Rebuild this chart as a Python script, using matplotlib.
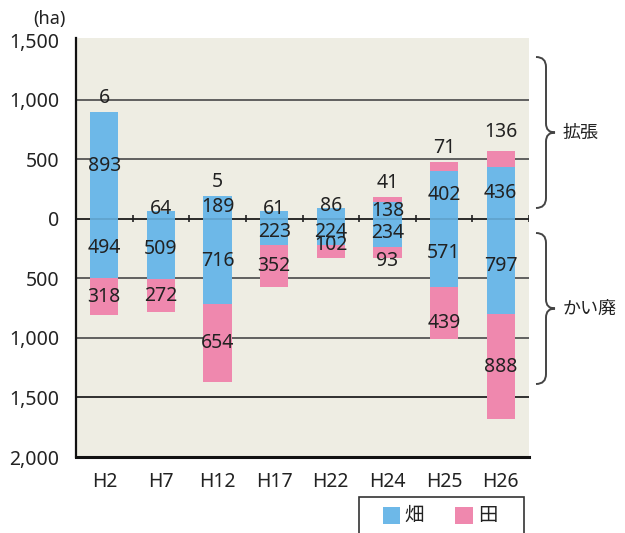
import matplotlib
matplotlib.use('Agg')
import matplotlib.pyplot as plt
from matplotlib.path import Path
from matplotlib.patches import PathPatch, Rectangle
import numpy as np

categories = ['H2', 'H7', 'H12', 'H17', 'H22', 'H24', 'H25', 'H26']
exp_hata = [893, 64, 189, 61, 86, 138, 402, 436]   # 拡張 畑
exp_ta = [6, 0, 5, 0, 0, 41, 71, 136]             # 拡張 田
loss_hata = [494, 509, 716, 223, 224, 234, 571, 797]  # かい廃 畑
loss_ta = [318, 272, 654, 352, 102, 93, 439, 888]     # かい廃 田
yticks = [1500, 1000, 500, 0, -500, -1000, -1500, -2000]
ytick_labels = ['1,500', '1,000', '500', '0', '500', '1,000', '1,500', '2,000']

plt.rcParams['font.family'] = ['Noto Sans', 'Noto Sans CJK JP', 'DejaVu Sans']

W, H = 625, 533
BLUE = '#6db8e8'
PINK = '#ef88ae'
BG = '#eeede3'
TXT = '#222222'
FS = 14

fig = plt.figure(figsize=(W / 100, H / 100), dpi=100)
ax = fig.add_axes([76 / W, 1 - 457 / H, (529 - 76) / W, (457 - 38) / H])
ax.set_facecolor(BG)

x = np.arange(len(categories))
bw = 0.5
neg_hata = [-v for v in loss_hata]
neg_ta = [-v for v in loss_ta]
kw = dict(width=bw, zorder=3, linewidth=0)
ax.bar(x, exp_hata, color=BLUE, **kw)
ax.bar(x, exp_ta, bottom=exp_hata, color=PINK, **kw)
ax.bar(x, neg_hata, color=BLUE, **kw)
ax.bar(x, neg_ta, bottom=neg_hata, color=PINK, **kw)

for yv in [1000, 500, -500, -1000]:
    ax.axhline(yv, color='#555555', lw=1.3, zorder=1)
ax.axhline(-1500, color='#222222', lw=1.3, zorder=1)
ax.axhline(0, color='#222222', lw=1.3, zorder=2)
ax.axhline(0, color='#000000', lw=1.2, alpha=0.12, zorder=3.5)
ax.vlines(x + 0.5, -28, 28, color='#222222', lw=1.2, zorder=2)

ax.set_xlim(-0.5, len(categories) - 0.5)
ax.set_ylim(-2000, 1517)
ax.set_yticks(yticks)
ax.set_yticklabels(ytick_labels)
ax.set_xticks(x)
ax.set_xticklabels(categories)
ax.tick_params(axis='y', length=0, pad=12, labelsize=FS, labelcolor=TXT)
ax.tick_params(axis='x', length=0, pad=11, labelsize=FS, labelcolor=TXT)
for s in ['top', 'right']:
    ax.spines[s].set_visible(False)
ax.spines['left'].set_color('#111111')
ax.spines['left'].set_linewidth(1.6)
ax.spines['bottom'].set_color('#111111')
ax.spines['bottom'].set_linewidth(2.2)
ax.spines['left'].set_zorder(4)
ax.spines['bottom'].set_zorder(4)

# value labels (pixel nudges are purely layout)
nudge_loss_ta = {4: 6, 5: -9, 6: -10}
for i in range(len(categories)):
    eh = exp_hata[i]
    ly = eh / 2 if eh >= 100 else eh + 20
    ax.text(x[i], ly, str(eh), ha='center', va='center', fontsize=FS, color=TXT, zorder=5)
    if exp_ta[i] > 0:
        top = eh + exp_ta[i]
        off = 19 if i == 7 else 14
        ax.annotate(str(exp_ta[i]), (x[i], top), xytext=(0, off), textcoords='offset pixels',
                    ha='center', va='center', fontsize=FS, color=TXT, zorder=5)
    lh = loss_hata[i]
    ax.text(x[i], -lh / 2, str(lh), ha='center', va='center', fontsize=FS, color=TXT, zorder=5)
    lt = loss_ta[i]
    ax.annotate(str(lt), (x[i], -lh - lt / 2), xytext=(0, nudge_loss_ta.get(i, 0)),
                textcoords='offset pixels', ha='center', va='center', fontsize=FS, color=TXT, zorder=5)

fig.text(49 / W, 1 - 19 / H, '(ha)', ha='center', va='center', fontsize=13, color=TXT)


def px(xp, yp):
    return (xp / W, 1 - yp / H)


def brace(yt, yb, x0=536, xv=546, xt=555, r=10):
    ym = (yt + yb) / 2
    verts = [px(x0, yt), px(xv, yt), px(xv, yt + r),
             px(xv, ym - 9), px(xv, ym), px(xt, ym),
             px(xv, ym), px(xv, ym + 9),
             px(xv, yb - r), px(xv, yb), px(x0, yb)]
    codes = [Path.MOVETO, Path.CURVE3, Path.CURVE3,
             Path.LINETO, Path.CURVE3, Path.CURVE3,
             Path.CURVE3, Path.CURVE3,
             Path.LINETO, Path.CURVE3, Path.CURVE3]
    p = PathPatch(Path(verts, codes), transform=fig.transFigure, fill=False,
                  edgecolor='#444444', lw=1.4)
    fig.add_artist(p)
    return ym


ym1 = brace(57, 208)
ym2 = brace(233, 384)
fig.text(*px(563, ym1), '拡張', ha='left', va='center', fontsize=FS - 1, color=TXT)
fig.text(*px(563, ym2), 'かい廃', ha='left', va='center', fontsize=FS - 1, color=TXT)

# legend box
fig.add_artist(Rectangle(px(359, 545), (524 - 359) / W, (545 - 497) / H, transform=fig.transFigure,
                         fill=False, edgecolor='#333333', lw=1.2))
fig.add_artist(Rectangle(px(383, 524), 17 / W, 17 / H, transform=fig.transFigure,
                         facecolor=BLUE, edgecolor='none'))
fig.add_artist(Rectangle(px(455, 524), 18 / W, 17 / H, transform=fig.transFigure,
                         facecolor=PINK, edgecolor='none'))
fig.text(*px(404, 516), '畑', ha='left', va='center', fontsize=FS, color=TXT)
fig.text(*px(478, 516), '田', ha='left', va='center', fontsize=FS, color=TXT)

fig.savefig('out.png', dpi=100, facecolor='white')
